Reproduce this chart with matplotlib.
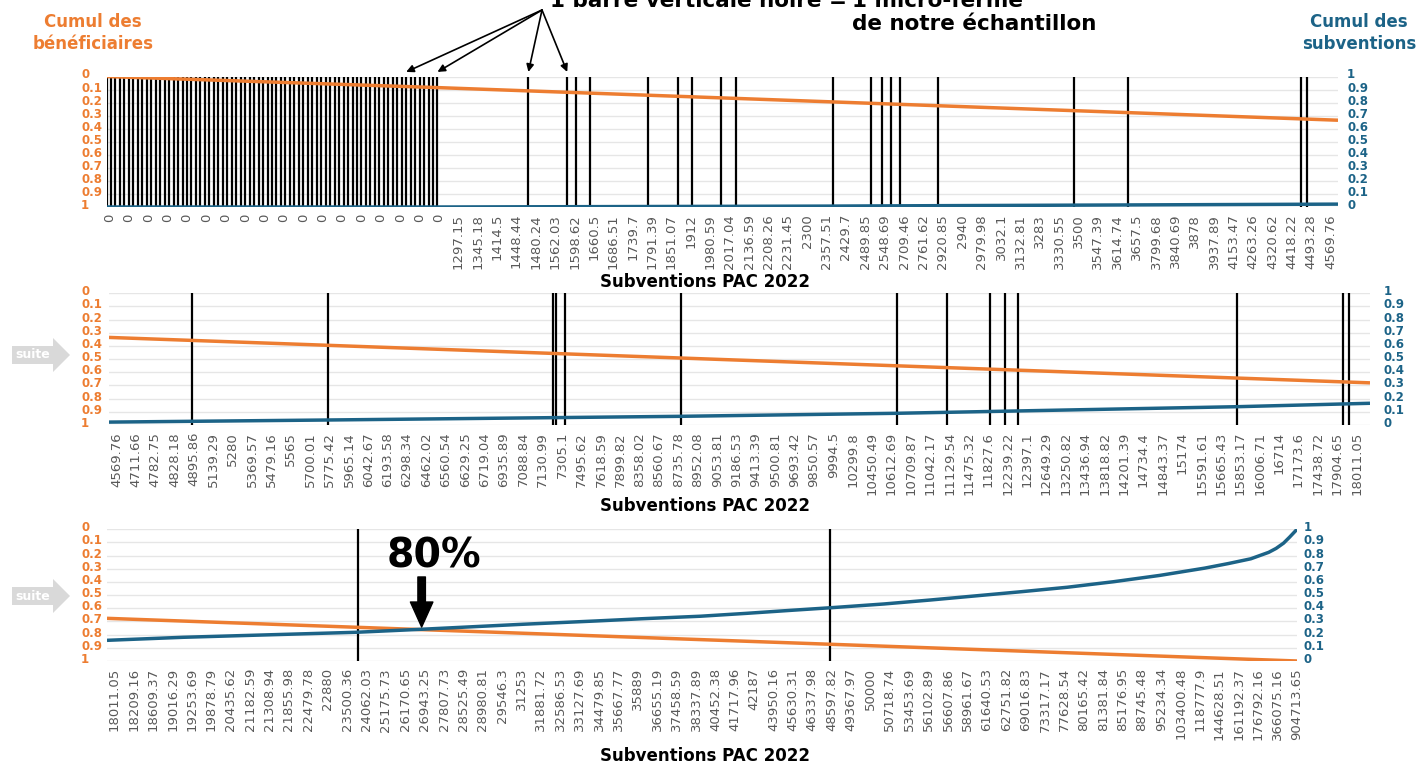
import matplotlib.pyplot as plt
import matplotlib.transforms as mtransforms
from matplotlib.patches import FancyArrow

W, H = 1417, 763
ORANGE = '#ED7D31'
BLUE = '#1C6387'
GREY = '#595959'

STEP = 13  # beneficiaries (ranks) between two x labels

# x labels (Subventions PAC 2022, EUR) per panel
labels_p1 = ['0'] * 18 + [
    '1297.15', '1345.18', '1414.5', '1448.44', '1480.24', '1562.03', '1598.62',
    '1660.5', '1686.51', '1739.7', '1791.39', '1851.07', '1912', '1980.59',
    '2017.04', '2136.59', '2208.26', '2231.45', '2300', '2357.51', '2429.7',
    '2489.85', '2548.69', '2709.46', '2761.62', '2920.85', '2940', '2979.98',
    '3032.1', '3132.81', '3283', '3330.55', '3500', '3547.39', '3614.74',
    '3657.5', '3799.68', '3840.69', '3878', '3937.89', '4153.47', '4263.26',
    '4320.62', '4418.22', '4493.28', '4569.76']
labels_p2 = [
    '4569.76', '4711.66', '4782.75', '4828.18', '4895.86', '5139.29', '5280',
    '5369.57', '5479.16', '5565', '5700.01', '5775.42', '5965.14', '6042.67',
    '6193.58', '6298.34', '6462.02', '6560.54', '6629.25', '6719.04', '6935.89',
    '7088.84', '7130.99', '7305.1', '7495.62', '7618.59', '7899.82', '8358.02',
    '8560.67', '8735.78', '8952.08', '9053.81', '9186.53', '9413.39', '9500.81',
    '9693.42', '9850.57', '9994.5', '10299.8', '10450.49', '10612.69',
    '10709.87', '11042.17', '11129.54', '11475.32', '11827.6', '12239.22',
    '12397.1', '12649.29', '13250.82', '13436.94', '13818.82', '14201.39',
    '14734.4', '14843.37', '15174', '15591.61', '15665.43', '15853.17',
    '16006.71', '16714', '17173.6', '17438.72', '17904.65', '18011.05']
labels_p3 = [
    '18011.05', '18209.16', '18609.37', '19016.29', '19253.69', '19878.79',
    '20435.62', '21182.59', '21308.94', '21855.98', '22479.78', '22880',
    '23500.36', '24062.03', '25175.73', '26170.65', '26943.25', '27807.73',
    '28525.49', '28980.81', '29546.3', '31253', '31881.72', '32586.53',
    '33127.69', '34479.85', '35667.77', '35889', '36655.19', '37458.59',
    '38337.89', '40452.38', '41717.96', '42187', '43950.16', '45630.31',
    '46337.98', '48597.82', '49367.97', '50000', '50718.74', '53453.69',
    '56102.89', '56607.86', '58961.67', '61640.53', '62751.82', '69016.83',
    '73317.17', '77628.54', '80165.42', '81381.84', '85176.95', '88745.48',
    '95234.34', '103400.48', '118777.9', '144628.51', '161192.37', '176792.16',
    '366075.16', '904713.65']

# rank of the first labelled beneficiary in each panel
label_start = [2, 5, 5]

# ranks of the micro-farms of the sample (black bars)
micro_p1 = [0, 3, 6, 9, 12, 15, 18, 21, 24, 27, 30, 33, 36, 39, 42, 45, 48, 51,
            54, 57, 60, 63, 66, 69, 72, 75, 78, 81, 84, 87, 90, 93, 96, 99, 102,
            105, 108, 111, 114, 117, 120, 123, 126, 129, 132, 135, 138, 141, 144,
            147, 150, 153, 156, 159, 162, 165, 168, 171, 174, 177, 180, 183, 186,
            189, 192, 195, 198, 201, 204, 207, 210, 213, 216, 219, 222,
            283, 309, 315, 324, 363, 383, 393, 412, 422, 487, 513, 520, 526, 532,
            558, 649, 685, 801, 805]
micro_p2 = [56, 147, 298, 300, 306, 384, 529, 562, 591, 601, 610, 757, 828, 832]
micro_p3 = [168, 485]

# cumulative share of beneficiaries (left axis, inverted)
rank_benef_p1 = [0, 222, 826]
benef_p1 = [0.0, 0.085, 0.335]
rank_benef_p2 = [0, 846]
benef_p2 = [0.335, 0.68]
rank_benef_p3 = [0, 798]
benef_p3 = [0.676, 1.0]

# cumulative share of subsidies (right axis)
rank_subv_p1 = [0, 222, 487, 826]
subv_p1 = [0.0, 0.0, 0.007, 0.022]
rank_subv_p2 = [0, 147, 384, 529, 757, 846]
subv_p2 = [0.022, 0.038, 0.066, 0.089, 0.139, 0.165]
rank_subv_p3 = [0, 51, 167, 211, 279, 328, 359, 398, 429, 459, 486, 521, 552,
                582, 613, 644, 675, 706, 736, 752, 767, 779, 784, 789, 793, 798]
subv_p3 = [0.157, 0.180, 0.218, 0.241, 0.279, 0.304, 0.321, 0.340, 0.362,
           0.385, 0.405, 0.433, 0.463, 0.494, 0.526, 0.560, 0.602, 0.650,
           0.705, 0.740, 0.776, 0.825, 0.855, 0.895, 0.940, 1.0]

yticks = [0, 0.1, 0.2, 0.3, 0.4, 0.5, 0.6, 0.7, 0.8, 0.9, 1]
ylabels = ['0', '0.1', '0.2', '0.3', '0.4', '0.5', '0.6', '0.7', '0.8', '0.9', '1']

fig = plt.figure(figsize=(W / 100, H / 100), dpi=100)
# pixel coordinates measured from the top-left corner
px = mtransforms.Affine2D().scale(1 / W, -1 / H).translate(0, 1) + fig.transFigure
lift = mtransforms.ScaledTranslation(0, 3 / 100, fig.dpi_scale_trans)


def draw_panel(rect, labels, start, micro, rb, benef, rs, subv, right_lab_x):
    left, top, right, bottom = rect
    ax = fig.add_axes([left / W, 1 - bottom / H, (right - left) / W, (bottom - top) / H])
    ax2 = ax.twinx()

    ax.vlines(micro, 0, 1, color='black', lw=1.6, zorder=2)
    ax.plot(rb, benef, color=ORANGE, lw=2.5, zorder=3, solid_capstyle='butt')
    ax2.plot(rs, subv, color=BLUE, lw=2.5, solid_capstyle='butt',
             solid_joinstyle='round')

    ax.set_xlim(0, rb[-1])
    ax.set_ylim(1, 0)
    ax2.set_ylim(0, 1)

    ax.set_xticks([start + STEP * i for i in range(len(labels))])
    ax.set_xticklabels(labels, rotation=90, fontsize=9.5, color=GREY)
    ax.tick_params(axis='x', length=0, pad=5)

    ax.set_yticks(yticks)
    ax.set_yticklabels(ylabels, color=ORANGE, fontsize=8.5, weight='bold')
    ax.tick_params(axis='y', length=0, pad=(left - 81) * 0.72)
    for lbl in ax.get_yticklabels():
        lbl.set_ha('left')
        lbl.set_transform(lbl.get_transform() + lift)

    ax2.set_yticks(yticks)
    ax2.set_yticklabels(ylabels, color=BLUE, fontsize=8.5, weight='bold')
    ax2.tick_params(axis='y', length=0, pad=(right_lab_x - right) * 0.72)
    for lbl in ax2.get_yticklabels():
        lbl.set_transform(lbl.get_transform() + lift)

    ax.yaxis.grid(True, color='#E6E6E6', lw=1)
    ax.set_axisbelow(True)
    for a in (ax, ax2):
        for s in a.spines.values():
            s.set_visible(False)
    return ax, ax2


ax1, _ = draw_panel((106.5, 76.5, 1338, 207), labels_p1, label_start[0], micro_p1,
                    rank_benef_p1, benef_p1, rank_subv_p1, subv_p1, 1347)
ax2_, _ = draw_panel((109, 293.3, 1370, 425), labels_p2, label_start[1], micro_p2,
                     rank_benef_p2, benef_p2, rank_subv_p2, subv_p2, 1384)
ax3, ax3r = draw_panel((107, 529.3, 1297, 661), labels_p3, label_start[2], micro_p3,
                       rank_benef_p3, benef_p3, rank_subv_p3, subv_p3, 1304)

for y in (282, 506, 756):
    fig.text(705, y, 'Subventions PAC 2022', transform=px, ha='center', va='center',
             fontsize=12, weight='bold')

# axis headers
fig.text(93, 22, 'Cumul des', transform=px, ha='center', va='center',
         fontsize=12, weight='bold', color=ORANGE)
fig.text(93, 44, 'bénéficiaires', transform=px, ha='center', va='center',
         fontsize=12, weight='bold', color=ORANGE)
fig.text(1359, 22, 'Cumul des', transform=px, ha='center', va='center',
         fontsize=12, weight='bold', color=BLUE)
fig.text(1359, 44, 'subventions', transform=px, ha='center', va='center',
         fontsize=12, weight='bold', color=BLUE)

# title (its first line is cut by the top edge, as in the source image)
fig.text(847, 7, '1 barre verticale noire =', transform=px, ha='right', va='baseline',
         fontsize=15.5, weight='bold')
fig.text(852, 7, '1 micro-ferme', transform=px, ha='left', va='baseline',
         fontsize=15.5, weight='bold')
fig.text(852, 30, 'de notre échantillon', transform=px, ha='left', va='baseline',
         fontsize=15.5, weight='bold')

for r in (201, 222, 283, 309):
    ax1.annotate('', xy=(r, 1.035), xycoords=('data', 'axes fraction'),
                 xytext=(542, 10), textcoords=px,
                 arrowprops=dict(arrowstyle='-|>', color='black', lw=1.2,
                                 mutation_scale=11, shrinkA=0, shrinkB=0))

# 80% marker
ax3r.annotate('', xy=(211, 0.258), xytext=(211, 0.638),
              arrowprops=dict(arrowstyle='simple,head_length=1.0,head_width=0.9,tail_width=0.3',
                              color='black', mutation_scale=18, shrinkA=0, shrinkB=0))
ax3r.text(219, 0.79, '80%', ha='center', va='center', fontsize=28.5, weight='bold')

# "suite" arrows
for yc in (355, 596):
    fig.add_artist(FancyArrow(12, yc, 58, 0, width=18, head_width=34, head_length=17,
                              length_includes_head=True, transform=px,
                              color='#D9D9D9', lw=0))
    fig.text(33, yc, 'suite', transform=px, ha='center', va='center',
             fontsize=9, weight='bold', color='white')

fig.savefig('out.png', dpi=100)
